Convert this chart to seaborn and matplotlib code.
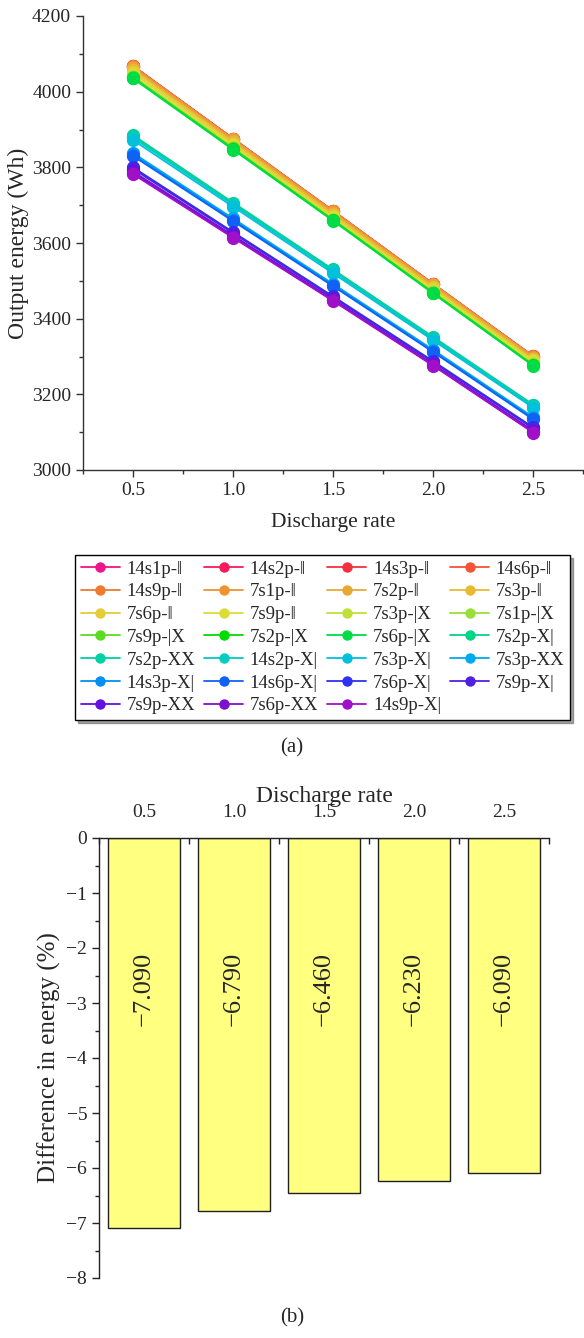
import matplotlib
matplotlib.use("Agg")
import matplotlib.pyplot as plt
from matplotlib.lines import Line2D
from matplotlib.ticker import MultipleLocator
import seaborn as sns
import pandas as pd

# discharge rates shared by both panels
rates = [0.5, 1.0, 1.5, 2.0, 2.5]

# panel (a): configurations, colours and output energy (Wh) per rate
configs = [
    "14s1p-‖", "14s2p-‖", "14s3p-‖", "14s6p-‖",
    "14s9p-‖", "7s1p-‖", "7s2p-‖", "7s3p-‖",
    "7s6p-‖", "7s9p-‖", "7s3p-|X", "7s1p-|X",
    "7s9p-|X", "7s2p-|X", "7s6p-|X", "7s2p-X|",
    "7s2p-XX", "14s2p-X|", "7s3p-X|", "7s3p-XX",
    "14s3p-X|", "14s6p-X|", "7s6p-X|", "7s9p-X|",
    "7s9p-XX", "7s6p-XX", "14s9p-X|",
]
colors = [
    "#EE1489", "#F41A5C", "#F43040", "#F35436",
    "#F07A30", "#EE9232", "#E8A836", "#E8BA32",
    "#E5CC38", "#DCDC38", "#C0E038", "#98E038",
    "#5CDC20", "#00DC00", "#00DC48", "#00D488",
    "#00D0A4", "#00CCC0", "#00C0DC", "#00AAEE",
    "#0090F5", "#1062F5", "#3030F0", "#5020E0",
    "#6410E0", "#8010D0", "#A010C8",
]
energy_wh = [
    [4068, 3876, 3685, 3492, 3301],
    [4068, 3876, 3685, 3492, 3301],
    [4067, 3876, 3684, 3492, 3300],
    [4067, 3875, 3684, 3491, 3300],
    [4068, 3876, 3685, 3492, 3301],
    [4066, 3875, 3684, 3491, 3300],
    [4062, 3871, 3680, 3488, 3297],
    [4058, 3867, 3676, 3484, 3293],
    [4052, 3862, 3672, 3480, 3290],
    [4048, 3858, 3668, 3477, 3287],
    [4042, 3853, 3664, 3472, 3281],
    [4040, 3851, 3662, 3470, 3279],
    [4038, 3850, 3661, 3469, 3278],
    [4036, 3848, 3660, 3468, 3277],
    [4035, 3847, 3659, 3467, 3276],
    [3885, 3707, 3530, 3352, 3173],
    [3882, 3704, 3528, 3350, 3171],
    [3878, 3701, 3525, 3347, 3169],
    [3872, 3696, 3520, 3343, 3165],
    [3838, 3665, 3492, 3318, 3140],
    [3834, 3661, 3489, 3315, 3137],
    [3830, 3658, 3486, 3312, 3134],
    [3800, 3629, 3459, 3288, 3113],
    [3796, 3626, 3456, 3285, 3110],
    [3789, 3620, 3451, 3280, 3104],
    [3786, 3617, 3449, 3278, 3101],
    [3782, 3614, 3447, 3276, 3099],
]

# panel (b): difference in energy (%)
diff_pct = [-7.09, -6.79, -6.46, -6.23, -6.09]


def main():
    sns.set_style("ticks")
    plt.rcParams["font.family"] = ["Liberation Serif", "DejaVu Serif"]
    plt.rcParams["axes.edgecolor"] = "#333333"
    plt.rcParams["axes.linewidth"] = 1.0

    rows = []
    for name, vals in zip(configs, energy_wh):
        for r, v in zip(rates, vals):
            rows.append({"config": name, "rate": r, "energy": v})
    df = pd.DataFrame(rows)

    fig = plt.figure(figsize=(5.84, 13.38), dpi=100)

    # ---- panel (a) ----
    ax1 = fig.add_axes([83 / 584, 1 - 470 / 1338, 500 / 584, 454 / 1338])
    sns.lineplot(data=df, x="rate", y="energy", hue="config", hue_order=configs,
                 palette=colors, marker="o", markersize=9.5, markeredgewidth=0,
                 linewidth=1.3, legend=False, ax=ax1)
    ax1.set_xlim(0.25, 2.75)
    ax1.set_ylim(3000, 4200)
    ax1.xaxis.set_major_locator(MultipleLocator(0.5))
    ax1.xaxis.set_minor_locator(MultipleLocator(0.25))
    ax1.yaxis.set_major_locator(MultipleLocator(200))
    ax1.yaxis.set_minor_locator(MultipleLocator(100))
    ax1.xaxis.set_major_formatter(lambda v, p: f"{v:.1f}")
    ax1.tick_params(which="major", direction="out", length=5, width=1,
                    labelsize=14, color="#333333")
    ax1.tick_params(which="minor", direction="out", length=3, width=1,
                    color="#333333")
    for s in ("top", "right"):
        ax1.spines[s].set_visible(False)
    ax1.set_xlabel("Discharge rate", fontsize=15.5, labelpad=10)
    ax1.set_ylabel("Output energy (Wh)", fontsize=17, labelpad=2)

    # legend filled row by row, like the original
    order = [i for c in range(4) for i in range(c, len(configs), 4)]
    handles = [Line2D([], [], color=colors[i], marker="o", markersize=7.5,
                      markeredgewidth=0, linewidth=1.3) for i in order]
    labels = [configs[i] for i in order]
    fig.legend(handles, labels, ncol=4, loc="upper left", mode="expand",
               bbox_to_anchor=(75 / 584, 1 - 720 / 1338, 495 / 584, 165 / 1338),
               frameon=True, fancybox=False, shadow=True, edgecolor="black",
               framealpha=1, fontsize=13.5, handlelength=2.1, handletextpad=0.35,
               labelspacing=0.3, borderaxespad=0, borderpad=0.3,
               columnspacing=0.4)

    fig.text(0.5, 1 - 748 / 1338, "(a)", ha="center", va="center", fontsize=15)

    # ---- panel (b) ----
    ax2 = fig.add_axes([99 / 584, 1 - 1278 / 1338, 450 / 584, 440 / 1338])
    bdf = pd.DataFrame({"rate": rates, "diff": diff_pct})
    sns.barplot(data=bdf, x="rate", y="diff", native_scale=True, width=0.8,
                color="#FFFF80", edgecolor="#202020", linewidth=1.0,
                saturation=1, ax=ax2)
    ax2.set_xlim(0.25, 2.75)
    ax2.set_ylim(-8, 0)
    ax2.xaxis.tick_top()
    ax2.xaxis.set_label_position("top")
    ax2.xaxis.set_major_locator(MultipleLocator(0.5))
    ax2.xaxis.set_minor_locator(MultipleLocator(0.25))
    ax2.xaxis.set_major_formatter(lambda v, p: f"{v:.1f}")
    ax2.yaxis.set_major_locator(MultipleLocator(1))
    ax2.yaxis.set_minor_locator(MultipleLocator(0.5))
    ax2.tick_params(axis="x", which="major", direction="in", length=8, width=1,
                    labelsize=14, color="#222222", pad=12)
    ax2.tick_params(axis="x", which="minor", direction="in", length=4, width=1,
                    color="#222222")
    ax2.tick_params(axis="y", which="major", direction="out", length=5, width=1,
                    labelsize=14, color="#222222")
    ax2.tick_params(axis="y", which="minor", direction="out", length=3, width=1,
                    color="#222222")
    for s in ("bottom", "right"):
        ax2.spines[s].set_visible(False)
    ax2.spines["top"].set_color("#222222")
    ax2.spines["left"].set_color("#222222")
    ax2.set_xlabel("Discharge rate", fontsize=17, labelpad=2)
    ax2.set_ylabel("Difference in energy (%)", fontsize=18, labelpad=4)

    for r, v in zip(rates, diff_pct):
        ax2.text(r, -2.75, f"\u2212{abs(v):.3f}", rotation=90, ha="center",
                 va="center", fontsize=19)

    fig.text(0.5, 1 - 1318 / 1338, "(b)", ha="center", va="center", fontsize=15)

    fig.savefig("out.png", dpi=100)
    plt.close(fig)


if __name__ == "__main__":
    main()
